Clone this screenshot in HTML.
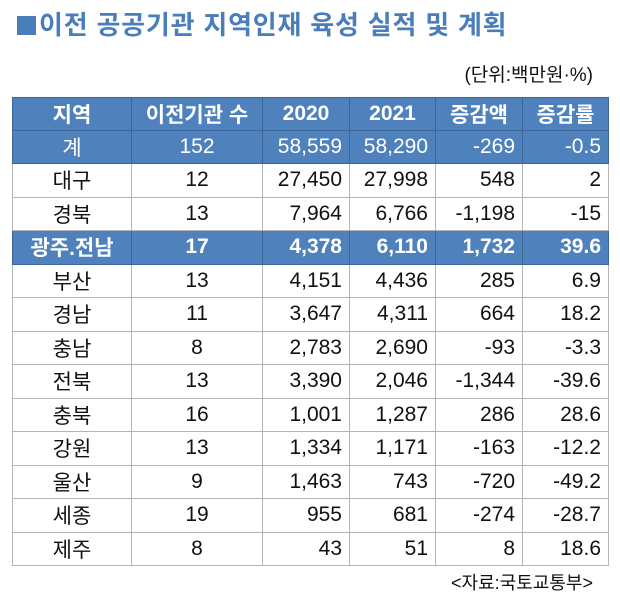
<!DOCTYPE html><html><head><meta charset="utf-8"><style>
body{margin:0;width:620px;height:598px;background:#fff;font-family:"Liberation Sans","Noto Sans CJK KR",sans-serif;position:relative;overflow:hidden}
.t{position:absolute;left:17px;top:5px;font-size:26px;font-weight:bold;color:#4a7ebb;letter-spacing:0.8px}
.sq{display:inline-block;width:19px;height:19px;background:#4a7ebb;margin-right:3px;vertical-align:-1px}
.u{position:absolute;right:27px;top:60px;font-size:19px;color:#111}
.s{position:absolute;right:27px;top:569px;font-size:18px;color:#111}
table{position:absolute;left:12px;top:97px;border-collapse:collapse;font-size:21px;color:#111}
td{border:1px solid #b5b5b5;padding:0 7px;height:33.5px;text-align:right;box-sizing:border-box}
td:first-child{text-align:center}
tr.h td{background:#4f81bd;color:#fff;font-weight:bold;text-align:center;height:33px;border-color:#3d6598}
tr.k td{background:#4f81bd;color:#fff;height:33px;border-color:#3d6598}
tr.g td{background:#4f81bd;color:#fff;font-weight:bold;border-color:#3d6598}
tr.g td:nth-child(2){text-align:center}
td:nth-child(2){text-align:center}
</style></head><body>
<div class="t"><span class="sq"></span>이전 공공기관 지역인재 육성 실적 및 계획</div>
<div class="u">(단위:백만원·%)</div>
<table>
<colgroup><col style="width:119px"><col style="width:131px"><col style="width:87px"><col style="width:86px"><col style="width:87px"><col style="width:86px"></colgroup>
<tr class="h"><td>지역</td><td>이전기관 수</td><td>2020</td><td>2021</td><td>증감액</td><td>증감률</td></tr>
<tr class="k"><td>계</td><td>152</td><td>58,559</td><td>58,290</td><td>-269</td><td>-0.5</td></tr>
<tr><td>대구</td><td>12</td><td>27,450</td><td>27,998</td><td>548</td><td>2</td></tr>
<tr><td>경북</td><td>13</td><td>7,964</td><td>6,766</td><td>-1,198</td><td>-15</td></tr>
<tr class="g"><td>광주.전남</td><td>17</td><td>4,378</td><td>6,110</td><td>1,732</td><td>39.6</td></tr>
<tr><td>부산</td><td>13</td><td>4,151</td><td>4,436</td><td>285</td><td>6.9</td></tr>
<tr><td>경남</td><td>11</td><td>3,647</td><td>4,311</td><td>664</td><td>18.2</td></tr>
<tr><td>충남</td><td>8</td><td>2,783</td><td>2,690</td><td>-93</td><td>-3.3</td></tr>
<tr><td>전북</td><td>13</td><td>3,390</td><td>2,046</td><td>-1,344</td><td>-39.6</td></tr>
<tr><td>충북</td><td>16</td><td>1,001</td><td>1,287</td><td>286</td><td>28.6</td></tr>
<tr><td>강원</td><td>13</td><td>1,334</td><td>1,171</td><td>-163</td><td>-12.2</td></tr>
<tr><td>울산</td><td>9</td><td>1,463</td><td>743</td><td>-720</td><td>-49.2</td></tr>
<tr><td>세종</td><td>19</td><td>955</td><td>681</td><td>-274</td><td>-28.7</td></tr>
<tr><td>제주</td><td>8</td><td>43</td><td>51</td><td>8</td><td>18.6</td></tr>
</table>
<div class="s">&lt;자료:국토교통부&gt;</div>
</body></html>
